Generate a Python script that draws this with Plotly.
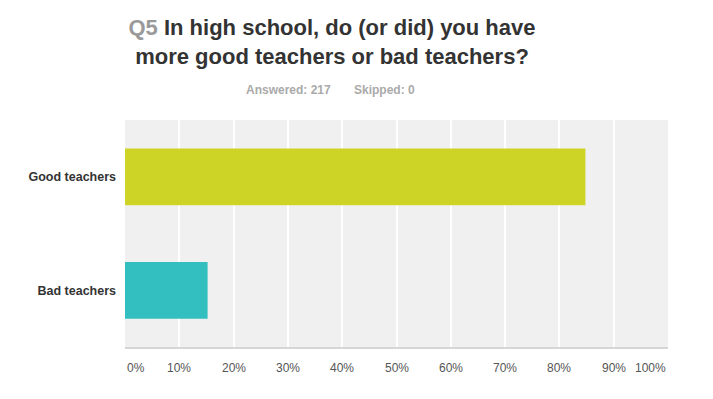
import plotly.graph_objects as go

categories = ["Good teachers", "Bad teachers"]
values = [84.79, 15.21]
bar_colors = ["#cdd426", "#33bfbf"]
tick_values = [0, 10, 20, 30, 40, 50, 60, 70, 80, 90, 100]
tick_labels = ["0%", "10%", "20%", "30%", "40%", "50%", "60%", "70%", "80%", "90%", "100%"]
question_no = "Q5"
question = "In high school, do (or did) you have<br>more good teachers or bad teachers?"
answered = "Answered: 217"
skipped = "Skipped: 0"

FONT = "Liberation Sans, Arial, sans-serif"

fig = go.Figure(go.Bar(
    x=values,
    y=categories,
    orientation="h",
    marker=dict(color=bar_colors, line=dict(width=0)),
    hoverinfo="skip",
))

annotations = []
for v, t in zip(tick_values, tick_labels):
    anchor = "left" if v == tick_values[0] else ("right" if v == tick_values[-1] else "center")
    annotations.append(dict(
        x=v, y=0, xref="x", yref="paper", text=t, showarrow=False,
        xanchor=anchor, yanchor="middle", yshift=-21,
        font=dict(family=FONT, size=12, color="#555555"),
    ))

annotations.append(dict(
    x=(333 - 125) / 543, y=(347 - 90) / 227, xref="paper", yref="paper",
    text="<b>" + answered + "</b>", showarrow=False, xanchor="right", yanchor="middle",
    font=dict(family=FONT, size=12, color="#aaaaaa"),
))
annotations.append(dict(
    x=(352 - 125) / 543, y=(347 - 90) / 227, xref="paper", yref="paper",
    text="<b>" + skipped + "</b>", showarrow=False, xanchor="left", yanchor="middle",
    font=dict(family=FONT, size=12, color="#aaaaaa"),
))

fig.update_layout(
    width=713, height=399,
    margin=dict(l=125, r=45, t=120, b=52),
    paper_bgcolor="white",
    plot_bgcolor="#f0f0f0",
    bargap=0.5,
    showlegend=False,
    title=dict(
        text='<b><span style="color:#9a9a9a">' + question_no + '</span> ' + question.replace("<br>", "</b><br><b>") + "</b>",
        x=332 / 713, xanchor="center", xref="container",
        y=1 - 35 / 399, yanchor="top", yref="container",
        font=dict(family=FONT, size=22, color="#333333"),
    ),
    xaxis=dict(
        range=[0, 100], tickvals=tick_values[1:-1], showticklabels=False,
        showgrid=True, gridcolor="#ffffff", gridwidth=1.5,
        showline=True, linecolor="#d6d6d6", linewidth=2, zeroline=False,
        fixedrange=True,
    ),
    yaxis=dict(
        categoryorder="array", categoryarray=categories[::-1],
        showgrid=False, zeroline=False, showline=False, ticks="",
        ticklabelstandoff=8,
        tickfont=dict(family=FONT, size=12.5, color="#333333", weight="bold"),
        fixedrange=True,
    ),
    annotations=annotations,
)

fig.write_html("out.html")
